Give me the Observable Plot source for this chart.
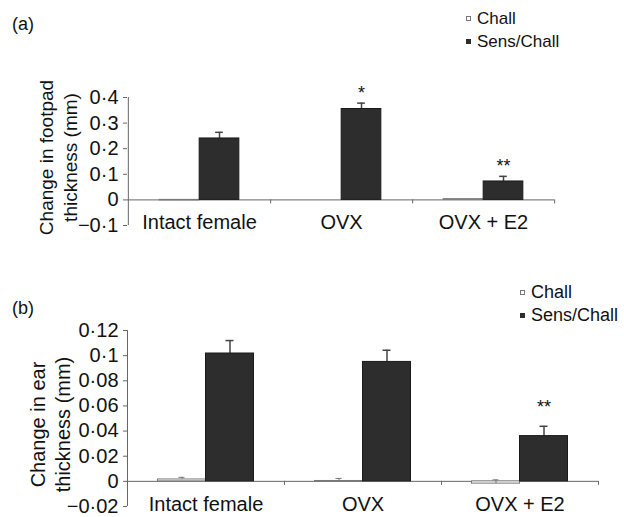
<!DOCTYPE html>
<html><head><meta charset="utf-8">
<script src="https://cdn.jsdelivr.net/npm/d3@7"></script>
<script src="https://cdn.jsdelivr.net/npm/@observablehq/plot@0.6"></script>
<style>
body{margin:0;background:#fff;font-family:"Liberation Sans",Arial,sans-serif;}
#wrap{position:relative;width:624px;height:517px;overflow:hidden;}
.panel{position:absolute;left:0;width:624px;}
.tag{position:absolute;font-size:18px;line-height:22px;color:#111;}
.leg{position:absolute;color:#111;}
.leg .item{position:relative;white-space:nowrap;}
.sw{position:absolute;width:5px;height:5px;box-sizing:border-box;}
</style></head><body>
<div id="wrap">
  <div class="panel" id="pa" style="top:0;height:260px"></div>
  <div class="panel" id="pb" style="top:258px;height:259px"></div>
</div>
<script>
// ---- data ----
const categories = ["Intact female", "OVX", "OVX + E2"];
const seriesNames = ["Chall", "Sens/Chall"];

const footpadChall    = [-0.002, 0.0, 0.003];
const footpadChallErr = [0, 0, 0];
const footpadSens     = [0.24, 0.355, 0.072];
const footpadSensErr  = [0.024, 0.023, 0.02];
const footpadStars    = ["", "*", "**"];
const footpadTicks    = [-0.1, 0, 0.1, 0.2, 0.3, 0.4];

const earChall    = [0.0015, 0.0003, -0.0018];
const earChallErr = [0.0017, 0.002, 0.003];
const earSens     = [0.1017, 0.095, 0.036];
const earSensErr  = [0.0103, 0.0093, 0.0078];
const earStars    = ["", "", "**"];
const earTicks    = [-0.02, 0, 0.02, 0.04, 0.06, 0.08, 0.1, 0.12];

const panelTags = ["(a)", "(b)"];
const yLabels = ["Change in footpad\nthickness (mm)", "Change in ear\nthickness (mm)"];

// ---- drawing ----
const axisColor = "#666";
const textColor = "#111";
const sensFill = "#2d2d2d";
const challStroke = "#777";

function fmt(d) {
  if (d === 0) return "0";
  return (d < 0 ? "\u2212" : "") + String(+Math.abs(d).toFixed(2)).replace(".", "\u00b7");
}

function panel(o) {
  const rows = categories.map((c, i) => ({
    cat: c, chall: o.chall[i], challTop: o.chall[i] + o.challErr[i], challErr: o.challErr[i],
    sens: o.sens[i], sensTop: o.sens[i] + o.sensErr[i], star: o.stars[i]
  }));
  const W = 624, ml = 127;
  const step = (W - ml - o.mr) / categories.length;
  const inset = (step - o.barW) / 2;
  const capInset = (step - 8) / 2;
  const domain = [o.ticks[0], o.ticks[o.ticks.length - 1]];
  return Plot.plot({
    width: W, height: o.H, marginTop: o.mt, marginBottom: o.mb, marginLeft: ml, marginRight: o.mr,
    style: {fontFamily: "'Liberation Sans', Arial, sans-serif", fontSize: "19.5px", color: textColor, background: "transparent", overflow: "visible"},
    x: {type: "band", domain: categories, paddingInner: 0, paddingOuter: 0, axis: null},
    y: {domain, axis: null},
    marks: [
      Plot.axisY({ticks: o.ticks, tickFormat: fmt, tickSize: 4, tickPadding: 5, stroke: axisColor, fill: textColor, label: null, fontSize: 20}),
      Plot.ruleX([categories[0]], {x: d => d, y1: domain[0], y2: domain[1], dx: -step / 2, stroke: axisColor}),
      Plot.ruleY([0], {stroke: axisColor}),
      Plot.ruleX(categories, {x: d => d, y1: 0, y2: 0, insetBottom: -4, dx: step / 2, stroke: axisColor}),
      // Chall bars
      Plot.barY(rows, {x: "cat", y1: 0, y2: "chall", fill: "white", stroke: challStroke, insetLeft: inset, insetRight: inset, dx: -o.barW / 2}),
      Plot.ruleX(rows.filter(r => r.challErr > 0), {x: "cat", y1: "chall", y2: "challTop", dx: -o.barW / 2, stroke: challStroke}),
      Plot.tickY(rows.filter(r => r.challErr > 0), {x: "cat", y: "challTop", dx: -o.barW / 2, insetLeft: capInset + 1, insetRight: capInset + 1, stroke: challStroke}),
      // Sens/Chall error bars (behind bar)
      Plot.ruleX(rows, {x: "cat", y1: "sens", y2: "sensTop", dx: o.barW / 2, stroke: "#444", strokeWidth: 1.5}),
      Plot.tickY(rows, {x: "cat", y: "sensTop", dx: o.barW / 2, insetLeft: capInset, insetRight: capInset, stroke: "#444", strokeWidth: 1.5}),
      // Sens/Chall bars
      Plot.barY(rows, {x: "cat", y1: 0, y2: "sens", fill: sensFill, stroke: "#1a1a1a", insetLeft: inset, insetRight: inset, dx: o.barW / 2}),
      // significance stars
      Plot.text(rows.filter(r => r.star), {x: "cat", y: "sensTop", text: "star", dx: o.barW / 2, dy: o.starDy, fontSize: 18, fill: textColor}),
      // category labels
      Plot.text(categories, {x: d => d, y: 0, text: d => d, dy: 23, fontSize: 20, fill: textColor}),
      // y label
      Plot.text([o.label], {frameAnchor: "left", textAnchor: "middle", text: d => d, rotate: -90, dx: o.labDx, dy: o.labDy, fontSize: o.labSize, lineHeight: o.labLH, fill: textColor})
    ]
  });
}

function legend(el, left, top, size, lh) {
  const box = document.createElement("div");
  box.className = "leg";
  box.style.left = left + "px";
  box.style.top = top + "px";
  box.style.fontSize = size + "px";
  box.style.lineHeight = lh + "px";
  seriesNames.forEach((s, i) => {
    const it = document.createElement("div");
    it.className = "item";
    it.textContent = s;
    const sw = document.createElement("span");
    sw.className = "sw";
    sw.style.left = "-11px";
    sw.style.top = (lh / 2 - 3) + "px";
    if (i === 0) { sw.style.background = "#fff"; sw.style.border = "1px solid #777"; }
    else { sw.style.background = sensFill; }
    it.appendChild(sw);
    box.appendChild(it);
  });
  el.appendChild(box);
}

function tag(el, text, left, top) {
  const t = document.createElement("div");
  t.className = "tag";
  t.textContent = text;
  t.style.left = left + "px";
  t.style.top = top + "px";
  el.appendChild(t);
}

const pa = document.getElementById("pa");
pa.appendChild(panel({
  chall: footpadChall, challErr: footpadChallErr, sens: footpadSens, sensErr: footpadSensErr,
  stars: footpadStars, ticks: footpadTicks, label: yLabels[0],
  H: 260, mt: 97, mb: 35, mr: 70, barW: 40, starDy: -10,
  labDx: -70, labDy: -4, labSize: 19, labLH: 1.28
}));
tag(pa, panelTags[0], 12, 13);
legend(pa, 477, 7, 17, 23);

const pb = document.getElementById("pb");
pb.appendChild(panel({
  chall: earChall, challErr: earChallErr, sens: earSens, sensErr: earSensErr,
  stars: earStars, ticks: earTicks, label: yLabels[1],
  H: 259, mt: 72, mb: 11, mr: 26, barW: 48, starDy: -19,
  labDx: -78, labDy: 6, labSize: 20, labLH: 1.25
}));
tag(pb, panelTags[1], 12, 39);
legend(pb, 531, 23, 18, 23);
</script>
</body></html>
